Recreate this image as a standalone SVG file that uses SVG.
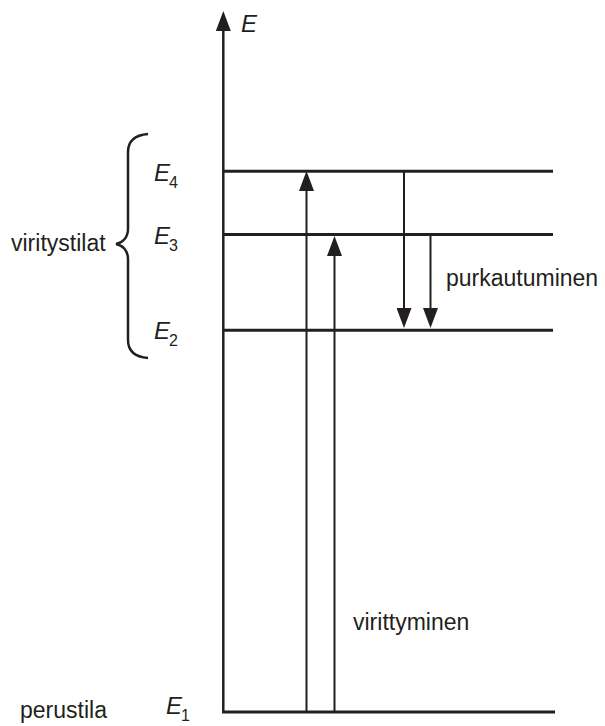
<svg xmlns="http://www.w3.org/2000/svg" width="605" height="726" viewBox="0 0 605 726">
  <style>
    .lvl { stroke: #231f20; stroke-width: 3; fill: none; }
    .arr { stroke: #231f20; stroke-width: 2; fill: none; marker-end: url(#ah); }
    .axis { stroke: #231f20; stroke-width: 2.5; fill: none; marker-end: url(#ah); }
    .txt { font-family: "Liberation Sans", Arial, sans-serif; font-size: 23px; fill: #231f20; }
    .e { font-family: "Liberation Sans", Arial, sans-serif; font-size: 24px; font-style: italic; fill: #231f20; }
    .sub { font-family: "Liberation Sans", Arial, sans-serif; font-size: 16px; fill: #231f20; }
    .brace { stroke: #231f20; stroke-width: 2.5; fill: none; }
  </style>
  <defs>
    <marker id="ah" markerUnits="userSpaceOnUse" markerWidth="20" markerHeight="15" refX="10" refY="7.5" orient="auto" viewBox="0 0 20 15">
      <path d="M0,0 L20,7.5 L0,15 Z" fill="#231f20"/>
    </marker>
  </defs>
  <rect width="605" height="726" fill="#ffffff"/>

  <g id="axis">
    <line class="axis" x1="223.3" y1="713" x2="223.3" y2="21"/>
    <text class="e" x="241" y="32">E</text>
  </g>

  <g id="level-E4">
    <line class="lvl" x1="223" y1="171.3" x2="553" y2="171.3"/>
    <text class="e" x="154" y="181">E</text><text class="sub" x="169" y="188">4</text>
  </g>
  <g id="level-E3">
    <line class="lvl" x1="223" y1="234.5" x2="553" y2="234.5"/>
    <text class="e" x="154" y="244">E</text><text class="sub" x="169" y="251">3</text>
  </g>
  <g id="level-E2">
    <line class="lvl" x1="223" y1="330.3" x2="553" y2="330.3"/>
    <text class="e" x="154" y="339">E</text><text class="sub" x="169" y="346">2</text>
  </g>
  <g id="level-E1">
    <line class="lvl" x1="222" y1="712" x2="555" y2="712"/>
    <text class="e" x="166" y="714">E</text><text class="sub" x="181" y="721">1</text>
    <text class="txt" x="20" y="718">perustila</text>
  </g>

  <g id="excited-states">
    <path class="brace" d="M148,134 C136,135 128,140 128,152 L128,229 C128,238 122,243 116,244 C122,245 128,250 128,259 L128,340 C128,352 136,357 148,358"/>
    <text class="txt" x="11" y="251">viritystilat</text>
  </g>

  <g id="connectors">
    <line class="arr" x1="306.5" y1="712" x2="306.5" y2="181"/>
    <line class="arr" x1="334.5" y1="712" x2="334.5" y2="246"/>
    <line class="arr" x1="404" y1="171" x2="404" y2="318"/>
    <line class="arr" x1="430.5" y1="236" x2="430.5" y2="318"/>
  </g>

  <g id="labels">
    <text class="txt" x="446" y="286">purkautuminen</text>
    <text class="txt" x="353" y="630">virittyminen</text>
  </g>
</svg>
